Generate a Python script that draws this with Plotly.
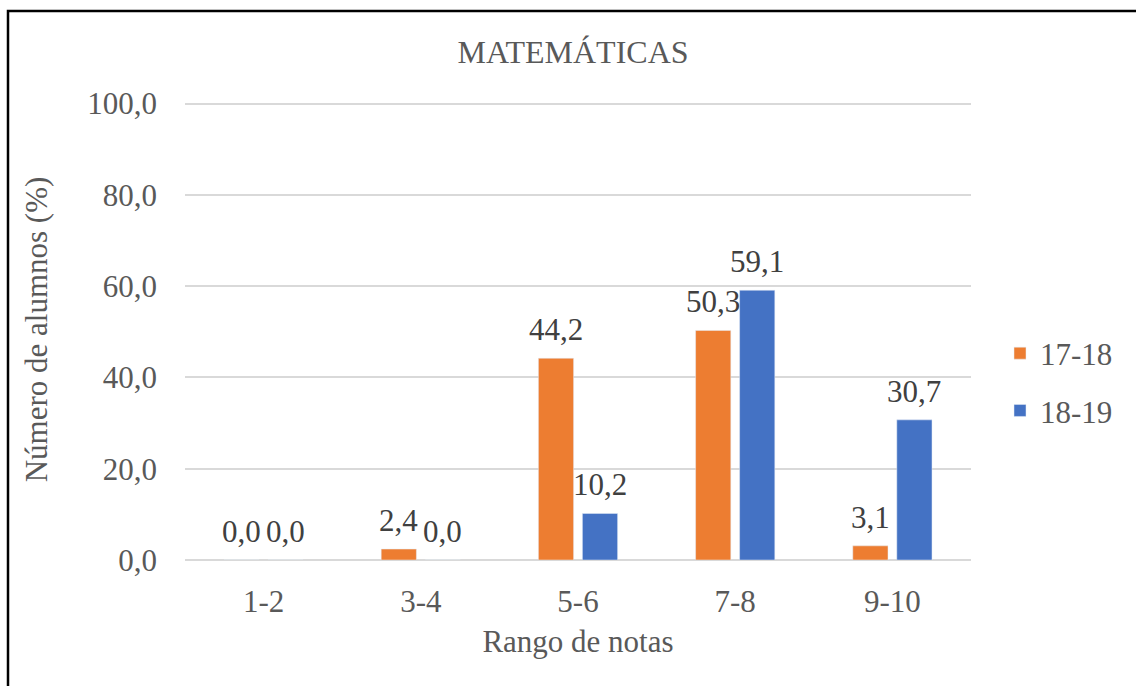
import plotly.graph_objects as go

categories = ["1-2", "3-4", "5-6", "7-8", "9-10"]
series_names = ["17-18", "18-19"]
values_1718 = [0.0, 2.4, 44.2, 50.3, 3.1]
values_1819 = [0.0, 0.0, 10.2, 59.1, 30.7]
y_ticks = [0, 20, 40, 60, 80, 100]
y_tick_labels = ["0,0", "20,0", "40,0", "60,0", "80,0", "100,0"]

colors = ["#ED7D31", "#4472C4"]
FONT = "Liberation Serif"
FS = 31

W, H = 1136, 686
L, R, T, B = 185, 165, 99, 126

fig = go.Figure()
for name, vals, col in zip(series_names, [values_1718, values_1819], colors):
    fig.add_trace(go.Bar(
        x=categories, y=vals, name=name, marker_color=col, legendgroup=name,
        cliponaxis=False,
    ))

# data labels as annotations (offset per series within the group)
for k, vals in enumerate([values_1718, values_1819]):
    shift = -22 if k == 0 else 22
    for c, v in zip(categories, vals):
        fig.add_annotation(x=c, y=v, xref="x", yref="y",
                           text=f"{v:.1f}".replace(".", ","),
                           showarrow=False, xanchor="center", yanchor="bottom",
                           xshift=shift, yshift=9,
                           font=dict(family=FONT, size=FS, color="#404040"))

pw = W - L - R
ph = H - T - B
fig.add_shape(type="rect", xref="paper", yref="paper",
              x0=(8 - L) / pw, x1=(W + 10 - L) / pw,
              y0=1 - (H + 10 - T) / ph, y1=1 - (11 - T) / ph,
              line=dict(color="black", width=2.5), fillcolor="rgba(0,0,0,0)", layer="above")

fig.update_layout(
    width=W, height=H,
    margin=dict(l=L, r=R, t=T, b=B, autoexpand=False),
    paper_bgcolor="white", plot_bgcolor="white",
    separators=",.",
    barmode="group", bargap=0.44, bargroupgap=0.2,
    font=dict(family=FONT, color="#595959"),
    title=dict(text="MATEMÁTICAS", x=573 / W, xanchor="center",
               y=1 - 52 / H, yanchor="middle",
               font=dict(family=FONT, size=32, color="#595959")),
    xaxis=dict(title=dict(text="Rango de notas", font=dict(family=FONT, size=FS, color="#595959"), standoff=12),
               tickfont=dict(family=FONT, size=FS, color="#595959"), showgrid=False,
               showline=False, ticks="", ticklabelstandoff=20, automargin=False),
    yaxis=dict(title=dict(text="Número de alumnos (%)", font=dict(family=FONT, size=FS, color="#595959"), standoff=30),
               range=[0, 101], tickvals=y_ticks, ticktext=y_tick_labels,
               tickfont=dict(family=FONT, size=FS, color="#595959"),
               showgrid=True, gridcolor="#D9D9D9", gridwidth=1.5,
               zeroline=True, zerolinecolor="#D9D9D9", zerolinewidth=2,
               ticks="", ticklabelstandoff=27, automargin=False),
    legend=dict(x=(1000 - L) / pw, xanchor="left", y=1 - (382 - T) / ph, yanchor="middle",
                font=dict(family=FONT, size=FS, color="#595959"),
                traceorder="grouped", itemwidth=30, tracegroupgap=14),
    showlegend=True,
)

fig.write_html("out.html", config={"displayModeBar": False},
               post_script="document.body.style.margin='0';document.body.style.padding='0';")
